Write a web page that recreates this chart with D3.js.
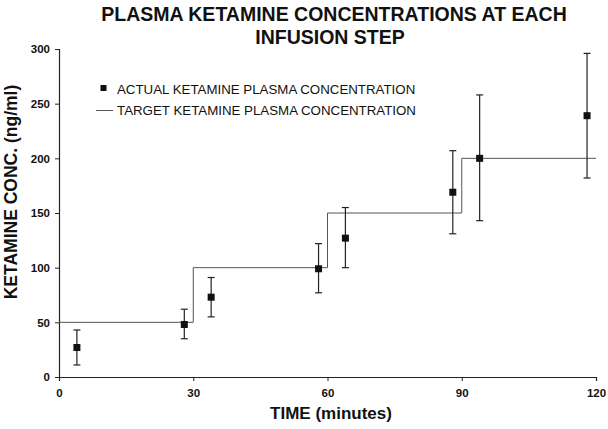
<!DOCTYPE html>
<html>
<head>
<meta charset="utf-8">
<script src="https://cdn.jsdelivr.net/npm/d3@7"></script>
<style>
  body { margin: 0; background: #fff; }
  text { font-family: Arial, "Liberation Sans", sans-serif; fill: #111; }
</style>
</head>
<body>
<svg id="chart" width="608" height="429"></svg>
<script>
// measured points: time (min), mean, lower and upper error bar ends (ng/ml)
var times = [4, 28, 34, 58, 64, 88, 94, 118];
var actual = [27, 48, 73, 99, 127, 169, 200, 239];
var errLow = [11, 35, 55, 77, 100, 131, 143, 182];
var errHigh = [43, 62, 91, 122, 155, 207, 258, 296];

// target step function
var targetTimes = [0, 30, 30, 60, 60, 90, 90, 120];
var targetConc = [50, 50, 100, 100, 150, 150, 200, 200];

var xTicks = [0, 30, 60, 90, 120];
var yTicks = [0, 50, 100, 150, 200, 250, 300];

var svg = d3.select("#chart");

var x = d3.scaleLinear().domain([0, 120]).range([59, 596]);
var y = d3.scaleLinear().domain([0, 300]).range([377, 49]);

// title
svg.append("text")
    .attr("x", 334).attr("y", 21)
    .attr("text-anchor", "middle")
    .style("font-size", "19.5px").style("font-weight", "bold")
    .text("PLASMA KETAMINE CONCENTRATIONS AT EACH");
svg.append("text")
    .attr("x", 330).attr("y", 44)
    .attr("text-anchor", "middle")
    .style("font-size", "19.5px").style("font-weight", "bold")
    .text("INFUSION STEP");

// axes
var yAxis = svg.append("g")
    .attr("transform", "translate(" + x(0) + ",0)")
    .call(d3.axisLeft(y).tickValues(yTicks).tickSize(4).tickPadding(5));
var xAxis = svg.append("g")
    .attr("transform", "translate(0," + y(0) + ")")
    .call(d3.axisBottom(x).tickValues(xTicks).tickSize(4).tickPadding(8));

[yAxis, xAxis].forEach(function(g) {
  g.select(".domain").attr("stroke", "#222").attr("stroke-width", 1.2);
  g.selectAll(".tick line").attr("stroke", "#222");
  g.selectAll(".tick text")
    .style("font-size", "11.5px").style("font-weight", "bold")
    .style("font-family", "Arial, 'Liberation Sans', sans-serif")
    .attr("fill", "#111");
});

// axis labels
svg.append("text")
    .attr("transform", "translate(17,192) rotate(-90)")
    .attr("text-anchor", "middle")
    .style("font-size", "17.5px").style("font-weight", "bold")
    .text("KETAMINE CONC. (ng/ml)");
svg.append("text")
    .attr("x", 331).attr("y", 419)
    .attr("text-anchor", "middle")
    .style("font-size", "17px").style("font-weight", "bold")
    .text("TIME (minutes)");

// target line
var line = d3.line()
    .x(function(d, i) { return x(targetTimes[i]); })
    .y(function(d) { return y(d); });
svg.append("path")
    .datum(targetConc)
    .attr("d", line)
    .attr("fill", "none")
    .attr("stroke", "#555")
    .attr("stroke-width", 1);

// error bars
var bars = svg.append("g").selectAll("g")
    .data(times)
    .enter().append("g");
bars.append("line")
    .attr("x1", function(d) { return x(d); })
    .attr("x2", function(d) { return x(d); })
    .attr("y1", function(d, i) { return y(errLow[i]); })
    .attr("y2", function(d, i) { return y(errHigh[i]); })
    .attr("stroke", "#222").attr("stroke-width", 1.2);
bars.append("line")
    .attr("x1", function(d) { return x(d) - 3.5; })
    .attr("x2", function(d) { return x(d) + 3.5; })
    .attr("y1", function(d, i) { return y(errLow[i]); })
    .attr("y2", function(d, i) { return y(errLow[i]); })
    .attr("stroke", "#222").attr("stroke-width", 1.2);
bars.append("line")
    .attr("x1", function(d) { return x(d) - 3.5; })
    .attr("x2", function(d) { return x(d) + 3.5; })
    .attr("y1", function(d, i) { return y(errHigh[i]); })
    .attr("y2", function(d, i) { return y(errHigh[i]); })
    .attr("stroke", "#222").attr("stroke-width", 1.2);
bars.append("rect")
    .attr("x", function(d) { return x(d) - 3.5; })
    .attr("y", function(d, i) { return y(actual[i]) - 3.5; })
    .attr("width", 7).attr("height", 7)
    .attr("fill", "#111");

// legend
var legend = svg.append("g");
legend.append("rect")
    .attr("x", 100.5).attr("y", 85).attr("width", 6).attr("height", 6)
    .attr("fill", "#111");
legend.append("text")
    .attr("x", 117).attr("y", 94)
    .style("font-size", "13.3px")
    .text("ACTUAL KETAMINE PLASMA CONCENTRATION");
legend.append("line")
    .attr("x1", 96).attr("x2", 113).attr("y1", 110.5).attr("y2", 110.5)
    .attr("stroke", "#555");
legend.append("text")
    .attr("x", 117).attr("y", 115)
    .style("font-size", "13.3px")
    .text("TARGET KETAMINE PLASMA CONCENTRATION");
</script>
</body>
</html>
